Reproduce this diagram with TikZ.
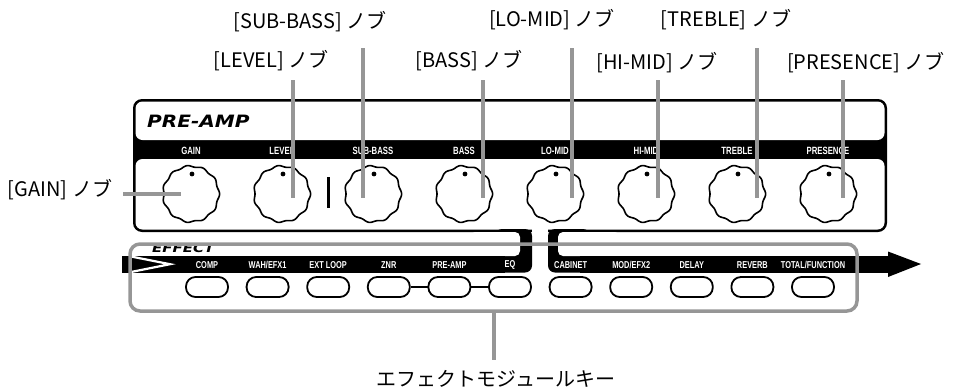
\documentclass[tikz,border=0pt]{standalone}
\usepackage{fontspec}
\usepackage{graphicx}
\setmainfont{Liberation Sans}
\newfontfamily\jp{Noto Sans CJK JP}
\newfontfamily\dvs{DejaVu Sans}
\definecolor{lead}{RGB}{150,150,150}
\newcommand{\cnd}[1]{\scalebox{0.74}[1]{#1}}
\newcommand{\myknob}[3]{%
  \node[circle, minimum size=56pt, inner sep=0pt] (#1) at (#2,#3) {};
  \draw[knobrim] plot[domain=0:360, samples=241, smooth, variable=\t]
    ({#2+(27.8+0.8*cos(11*\t))*cos(\t)},{#3+(27.8+0.8*cos(11*\t))*sin(\t)}) -- cycle;
  \fill (#2+1,#3-20) circle (2.4);
}
\begin{document}
\begin{tikzpicture}[x=1pt,y=-1pt,
  lbl/.style={font=\jp\fontsize{20}{20}\selectfont, inner sep=0pt},
  barlbl/.style={text=white, inner sep=0pt, font=\bfseries\fontsize{10.5}{10.5}\selectfont},
  leader/.style={draw=lead, line width=4pt},
  btn/.style={draw, line width=1.8pt, rounded corners=9.5pt, minimum width=42pt, minimum height=20pt, inner sep=0pt},
  knobrim/.style={line width=1.6pt}]
\useasboundingbox (0,0) rectangle (963,391);

% ---- PRE-AMP panel ----
\fill[black, rounded corners=9pt] (133,99) rectangle (887,232);
\fill[white, rounded corners=7pt] (135.5,101.5) rectangle (884.5,140);
\fill[white, rounded corners=7pt] (135.5,159) rectangle (884.5,229.5);
\node[anchor=west, inner sep=0pt, font=\dvs\bfseries\itshape\fontsize{17}{17}\selectfont] (title) at (147,121) {\scalebox{1.18}[1]{PRE-AMP}};

% panel labels
\foreach \n/\x/\t in {g/191/GAIN, l/282/LEVEL, sb/373/SUB-BASS, b/464/BASS, lm/555/LO-MID, hm/646/HI-MID, tr/737/TREBLE, pr/828/PRESENCE}{
  \node[barlbl] (pl-\n) at (\x,150.5) {\cnd{\t}};
}
% knobs
\myknob{kg}{191}{194}
\myknob{kl}{282}{194}
\myknob{ksb}{373}{194}
\myknob{kb}{464}{194}
\myknob{klm}{555}{194}
\myknob{khm}{646}{194}
\myknob{ktr}{737}{194}
\myknob{kpr}{828}{194}
\draw[line width=3pt] (328,177) -- (328,208);

% ---- EFFECT section ----
\fill[white] (532,226) rectangle (548,235);
\fill[black, rounded corners=7pt] (495,229) -- (532,229) -- (532,272.5) -- (495,272.5) -- cycle;
\fill[white, rounded corners=5pt] (470,232) -- (520,232) -- (520,256) -- (470,256) -- cycle;
\fill[black] (122,256) rectangle (505,272.5);
\fill[black, rounded corners=7pt] (548,229) -- (590,229) -- (590,272.5) -- (548,272.5) -- cycle;
\fill[white, rounded corners=5pt] (558,232) -- (620,232) -- (620,256) -- (558,256) -- cycle;
\fill[black] (580,256) rectangle (889,272.5);
\fill[black] (888,251.5) -- (921,264) -- (888,277) -- cycle;
\draw[white, line width=2.2pt] (131,256.5) -- (170,264.2) -- (131,272);
\node[anchor=west, inner sep=0pt, font=\dvs\bfseries\itshape\fontsize{12}{12}\selectfont] (efx) at (152,248.5) {\scalebox{1.25}[1]{EFFECT}};

\foreach \i/\x/\t in {1/207/COMP, 2/267.6/{WAH/EFX1}, 3/328.2/EXT LOOP, 4/388.8/ZNR, 5/449.4/PRE-AMP, 6/510/EQ, 7/570.6/CABINET, 8/631.2/{MOD/EFX2}, 9/691.8/DELAY, 10/752.4/REVERB, 11/813/{TOTAL/FUNCTION}}{
  \node[barlbl, font=\bfseries\fontsize{10}{10}\selectfont] (t\i) at (\x,265) {\cnd{\t}};
  \node[btn] (b\i) at (\x,287) {};
}
\draw[line width=2pt] (b4.east) -- (b5.west);
\draw[line width=2pt] (b5.east) -- (b6.west);

% group frame
\node[draw=lead, line width=3.5pt, rounded corners=10pt, minimum width=727pt, minimum height=67pt, inner sep=0pt] (grp) at (493.5,277.5) {};
\node[lbl] (keylbl) at (496,379) {エフェクトモジュールキー};
\draw[leader] (grp.south) -- ++(0,47);

% ---- callout labels ----
\node[lbl] (lsb) at (310,22) {[SUB-BASS] ノブ};
\node[lbl] (llm) at (552,20) {[LO-MID] ノブ};
\node[lbl] (ltr) at (726,20) {[TREBLE] ノブ};
\node[lbl] (ll) at (271,61) {[LEVEL] ノブ};
\node[lbl] (lb) at (469,61) {[BASS] ノブ};
\node[lbl] (lhm) at (657,63) {[HI-MID] ノブ};
\node[lbl] (lpr) at (866,63) {[PRESENCE] ノブ};
\node[lbl] (lg) at (60,190) {[GAIN] ノブ};

\coordinate (e-l) at (293,80);   \draw[leader] (e-l) -- (293,198);
\coordinate (e-sb) at (363,48);  \draw[leader] (e-sb) -- (363,198);
\coordinate (e-b) at (483,80);   \draw[leader] (e-b) -- (483,198);
\coordinate (e-lm) at (572,48);  \draw[leader] (e-lm) -- (572,198);
\coordinate (e-hm) at (658,80);  \draw[leader] (e-hm) -- (658,198);
\coordinate (e-tr) at (757,48);  \draw[leader] (e-tr) -- (757,198);
\coordinate (e-pr) at (843,80);  \draw[leader] (e-pr) -- (843,198);
\coordinate (e-g) at (123,194);  \draw[leader] (e-g) -- (181,194);
\end{tikzpicture}
\end{document}
